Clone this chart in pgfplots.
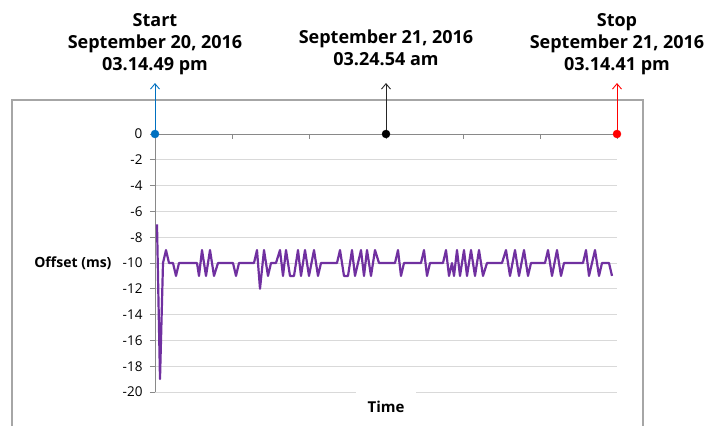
\documentclass[border=0pt]{standalone}
\usepackage{pgfplots}
\pgfplotsset{compat=1.18}
\usepackage{fontspec}
\setmainfont{Open Sans}
\usetikzlibrary{arrows.meta}
\definecolor{lineP}{HTML}{7030A0}
\definecolor{startB}{HTML}{0070C0}
\definecolor{gridG}{HTML}{D9D9D9}
\definecolor{axisG}{HTML}{898989}
\definecolor{frameG}{HTML}{A6A6A6}
\tikzset{barb/.style={-{Straight Barb[angle=80:7pt, line width=0.9pt]}}}
\begin{document}
\begin{tikzpicture}[x=1pt,y=1pt]
\useasboundingbox (0,0) rectangle (715,426);
\draw[frameG, line width=1.3pt] (12,0) -- (12,326) -- (643,326) -- (643,0);
\begin{axis}[
  at={(155pt,34pt)}, anchor=south west,
  scale only axis, width=462pt, height=258pt,
  xmin=155, xmax=617, ymin=-20, ymax=0,
  axis x line=top, axis y line=left,
  axis line style={axisG, line width=0.9pt, -},
  xtick={155,232,309,386,463,540,617}, xticklabels={},
  ytick={0,-2,...,-20},
  tick align=outside, major tick length=5pt,
  tick style={axisG, line width=0.8pt},
  xtick style={yshift=-5pt},
  ymajorgrids, grid style={gridG, line width=0.9pt},
  yticklabel style={font=\fontsize{13.5}{14}\selectfont, /pgf/number format/assume math mode=true, xshift=-4pt},
  ylabel={\textbf{Offset (ms)}},
  ylabel style={rotate=-90, anchor=east, at={(axis description cs:0,0.5)}, xshift=-40pt, font=\fontsize{14}{15}\selectfont},
  xlabel={\textbf{Time}},
  xlabel style={at={(axis description cs:0.5,0)}, anchor=center, yshift=-15pt, fill=white, inner xsep=12pt, inner ysep=9pt, font=\fontsize{15}{16}\selectfont},
  clip=false,
]
\addplot[lineP, line width=2.2pt, line join=round] table {
x y
157 -7
160 -19
163 -10
166 -9
169 -10
173 -10
176 -11
179 -10
197 -10
199 -11
202 -9
206 -11
210 -9
214 -11
218 -10
233 -10
236 -11
239 -10
254 -10
257 -9
260 -12
264 -9
268 -11
271 -10
276 -10
280 -9
283 -11
286 -9
290 -11
294 -11
298 -9
301 -11
305 -9
309 -11
314 -9
318 -11
321 -10
337 -10
340 -9
344 -11
348 -11
352 -9
355 -11
358 -10
361 -9
364 -11
367 -9
371 -11
375 -9
379 -10
395 -10
398 -9
401 -11
404 -10
421 -10
424 -9
427 -11
430 -10
443 -10
446 -9
449 -11
452 -10
454 -11
457 -9
460 -11
464 -9
467 -11
471 -9
475 -11
479 -9
483 -11
487 -10
502 -10
506 -9
510 -11
515 -9
519 -11
524 -9
528 -11
531 -10
545 -10
548 -9
552 -11
557 -9
561 -11
564 -10
583 -10
586 -9
589 -11
595 -9
599 -11
602 -10
609 -10
612 -11
};
\addplot[startB, line width=0.9pt, barb] coordinates {(155,0) (155,3.95)};
\addplot[black!85, line width=0.9pt, barb] coordinates {(386,0) (386,3.95)};
\addplot[red, line width=0.9pt, barb] coordinates {(617,0) (617,3.95)};
\addplot[only marks, mark=*, mark size=4pt, startB] coordinates {(155,0)};
\addplot[only marks, mark=*, mark size=4pt, black] coordinates {(386,0)};
\addplot[only marks, mark=*, mark size=4pt, red] coordinates {(617,0)};
\end{axis}
\begin{scope}[every node/.style={align=center, font=\fontsize{18}{22}\selectfont\bfseries, inner sep=0pt}]
\node at (155,382) {Start\\September 20, 2016\\03.14.49 pm};
\node at (386,378) {September 21, 2016\\03.24.54 am};
\node at (617,382) {Stop\\September 21, 2016\\03.14.41 pm};
\end{scope}
\end{tikzpicture}
\end{document}
